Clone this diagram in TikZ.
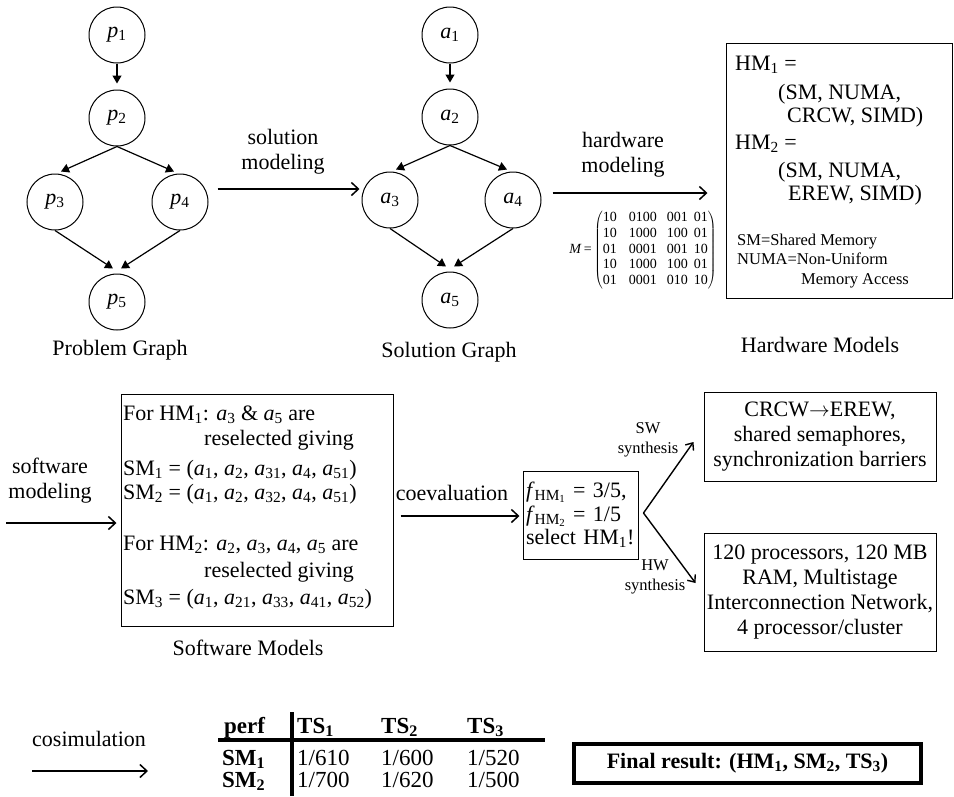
\documentclass[tikz,border=0pt]{standalone}
\usepackage{fontspec}
\setmainfont{Liberation Serif}
\usetikzlibrary{arrows.meta,calc}
\newcommand{\myA}[1]{\textit{a}\textsubscript{#1}}
\newcommand{\myP}[1]{\textit{p}\textsubscript{#1}}
\newcommand{\mySb}[1]{\textsubscript{#1}}
\begin{document}
\begin{tikzpicture}[x=1pt,y=-1pt,
  big/.style={font=\fontsize{22}{25}\selectfont},
  small/.style={font=\fontsize{16.5}{19.5}\selectfont},
  mini/.style={font=\fontsize{14}{15.6}\selectfont},
  tab/.style={font=\fontsize{23}{25}\selectfont,inner sep=0pt,anchor=base west},
  vert/.style={circle,draw,line width=1pt,minimum size=56pt,inner sep=0pt,big},
  gedge/.style={-{Triangle[length=8pt,width=9pt]},line width=1.2pt},
  flow/.style={-{Straight Barb[length=7pt,width=13pt]},line width=1.5pt},
  branch/.style={-{Straight Barb[length=6pt,width=10pt]},line width=1.4pt},
  lbl/.style={big,inner sep=0pt,align=center},
  tline/.style={big,inner sep=0pt,anchor=base west},
  sline/.style={small,inner sep=0pt,anchor=base west},
  box/.style={draw,line width=1pt,inner sep=0pt},
]
\useasboundingbox (0,0) rectangle (954,796);

% ---------- Problem graph ----------
\node[vert] (p1) at (117,35) {\myP{1}};
\node[vert] (p2) at (117,118) {\myP{2}};
\node[vert] (p3) at (55,202) {\myP{3}};
\node[vert] (p4) at (180,202) {\myP{4}};
\node[vert] (p5) at (117,302) {\myP{5}};
\draw[gedge,shorten >=6pt] (p1) -- (p2);
\draw[gedge] (p2.south) -- ($(p3.north)+(6,-2)$);
\draw[gedge] (p2.south) -- ($(p4.north)+(-6,-2)$);
\draw[gedge] (p3.south) -- ($(p5.north)+(-4,-5)$);
\draw[gedge] (p4.south) -- ($(p5.north)+(4,-5)$);
\node[lbl] (pgl) at (120,350) {Problem Graph};

% ---------- Solution graph ----------
\node[vert] (a1) at (450,35) {\myA{1}};
\node[vert] (a2) at (450,117) {\myA{2}};
\node[vert] (a3) at (390,200) {\myA{3}};
\node[vert] (a4) at (513,200) {\myA{4}};
\node[vert] (a5) at (450,300) {\myA{5}};
\draw[gedge,shorten >=6pt] (a1) -- (a2);
\draw[gedge] (a2.south) -- ($(a3.north)+(6,-2)$);
\draw[gedge] (a2.south) -- ($(a4.north)+(-6,-2)$);
\draw[gedge] (a3.south) -- ($(a5.north)+(-4,-5)$);
\draw[gedge] (a4.south) -- ($(a5.north)+(4,-5)$);
\node[lbl] (sgl) at (449,352) {Solution Graph};

\draw[flow] ($(p4.east)+(9,-13)$) -- ($(a3.west)+(-2,-11)$);
\node[lbl] (solm) at (283,152) {solution\\modeling};

% ---------- Hardware models ----------
\node[box,minimum width=226pt,minimum height=255pt] (hwbox) at (839,170.5) {};
\node[tline] (hw1) at (735,70) {HM\mySb{1} =};
\node[tline] (hw2) at (778,99) {(SM, NUMA,};
\node[tline] (hw3) at (787,122) {CRCW, SIMD)};
\node[tline] (hw4) at (735,149) {HM\mySb{2} =};
\node[tline] (hw5) at (778,177) {(SM, NUMA,};
\node[tline] (hw6) at (788,200) {EREW, SIMD)};
\node[sline] (hw7) at (737,245) {SM=Shared Memory};
\node[sline] (hw8) at (737,264) {NUMA=Non-Uniform};
\node[sline] (hw9) at (801,284) {Memory Access};
\node[lbl] (hml) at (820,345) {Hardware Models};

\draw[flow] ($(a4.east)+(11,-7)$) -- ($(hwbox.west)+(-18,22.5)$);
\node[lbl] (hwm) at (623,155) {hardware\\modeling};
\node[mini,inner sep=0pt] (mat) at (643,250) {\textit{M}\,=\,$\left(\begin{tabular}{@{}l@{\hspace{12pt}}l@{\hspace{10pt}}l@{\hspace{6pt}}l@{}}10&0100&001&01\\10&1000&100&01\\01&0001&001&10\\10&1000&100&01\\01&0001&010&10\end{tabular}\right)$};

% ---------- Software models ----------
\node[box,minimum width=272pt,minimum height=232pt] (swbox) at (257,510) {};
\node[tline] (sw1) at (123,420) {For HM\mySb{1}: \myA{3} \& \myA{5} are};
\node[tline] (sw2) at (204,445) {reselected giving};
\node[tline] (sw3) at (123,475) {SM\mySb{1} = (\myA{1}, \myA{2}, \myA{31}, \myA{4}, \myA{51})};
\node[tline] (sw4) at (123,499) {SM\mySb{2} = (\myA{1}, \myA{2}, \myA{32}, \myA{4}, \myA{51})};
\node[tline] (sw5) at (123,550) {For HM\mySb{2}: \myA{2}, \myA{3}, \myA{4}, \myA{5} are};
\node[tline] (sw6) at (204,577) {reselected giving};
\node[tline] (sw7) at (123,604) {SM\mySb{3} = (\myA{1}, \myA{21}, \myA{33}, \myA{41}, \myA{52})};
\node[lbl] (sml) at (248,648) {Software Models};

\coordinate (swin) at (6,523);
\draw[flow] (swin) -- ($(swbox.west)+(-4,13)$);
\node[lbl] (swm) at (50,481) {software\\modeling};

% ---------- Coevaluation ----------
\node[box,big,font=\fontsize{22}{23.5}\selectfont,text width=109pt,inner sep=3pt,minimum height=88pt,align=left] (fbox) at (580.5,515)
  {\textit{f}\textsubscript{HM\textsubscript{1}} = 3/5,\\\textit{f}\textsubscript{HM\textsubscript{2}} = 1/5\\select HM\mySb{1}!};
\draw[flow] ($(swbox.east)+(7,6)$) -- ($(fbox.west)+(-3,1)$);
\node[lbl] (coev) at (452,493) {coevaluation};

% ---------- Synthesis ----------
\node[box,big,minimum width=232pt,minimum height=89pt,align=center] (swres) at (820,436.5)
  {CRCW$\rightarrow$EREW,\\shared semaphores,\\synchronization barriers};
\node[box,big,minimum width=232pt,minimum height=118pt,align=center] (hwres) at (820,592)
  {120 processors, 120 MB\\RAM, Multistage\\Interconnection Network,\\4 processor/cluster};
\coordinate (bf) at ($(fbox.east)+(5,-2)$);
\draw[branch] (bf) -- ($(swres.west)+(-10,5.5)$);
\draw[branch] (bf) -- ($(hwres.west)+(-8,-9)$);
\node[lbl,small] (swsyn) at (648,440) {SW\\synthesis};
\node[lbl,small] (hwsyn) at (655,577) {HW\\synthesis};

% ---------- Cosimulation ----------
\node[tline] (cosim) at (32,746) {cosimulation};
\coordinate (cs1) at (32,771);
\coordinate (cs2) at (148,771);
\draw[flow] (cs1) -- (cs2);

\node[tab] (tperf) at (224,733) {\textbf{perf}};
\node[tab] (tts1) at (297,733) {\textbf{TS\mySb{1}}};
\node[tab] (tts2) at (381,733) {\textbf{TS\mySb{2}}};
\node[tab] (tts3) at (467,733) {\textbf{TS\mySb{3}}};
\node[tab] (tsm1) at (222,765) {\textbf{SM\mySb{1}}};
\node[tab] (t11) at (297,765) {1/610};
\node[tab] (t12) at (381,765) {1/600};
\node[tab] (t13) at (467,765) {1/520};
\node[tab] (tsm2) at (222,787) {\textbf{SM\mySb{2}}};
\node[tab] (t21) at (297,787) {1/700};
\node[tab] (t22) at (381,787) {1/620};
\node[tab] (t23) at (467,787) {1/500};
\coordinate (rl) at (218,740);
\coordinate (rr) at (545,740);
\coordinate (vt) at (292,712);
\coordinate (vb) at (292,796);
\draw[line width=4pt] (rl) -- (rr);
\draw[line width=4pt] (vt) -- (vb);

\node[draw,line width=4pt,minimum width=347pt,minimum height=39pt,inner sep=0pt,big] (final) at (747.5,763.5)
  {\textbf{Final result: (HM\mySb{1}, SM\mySb{2}, TS\mySb{3})}};
\end{tikzpicture}
\end{document}
